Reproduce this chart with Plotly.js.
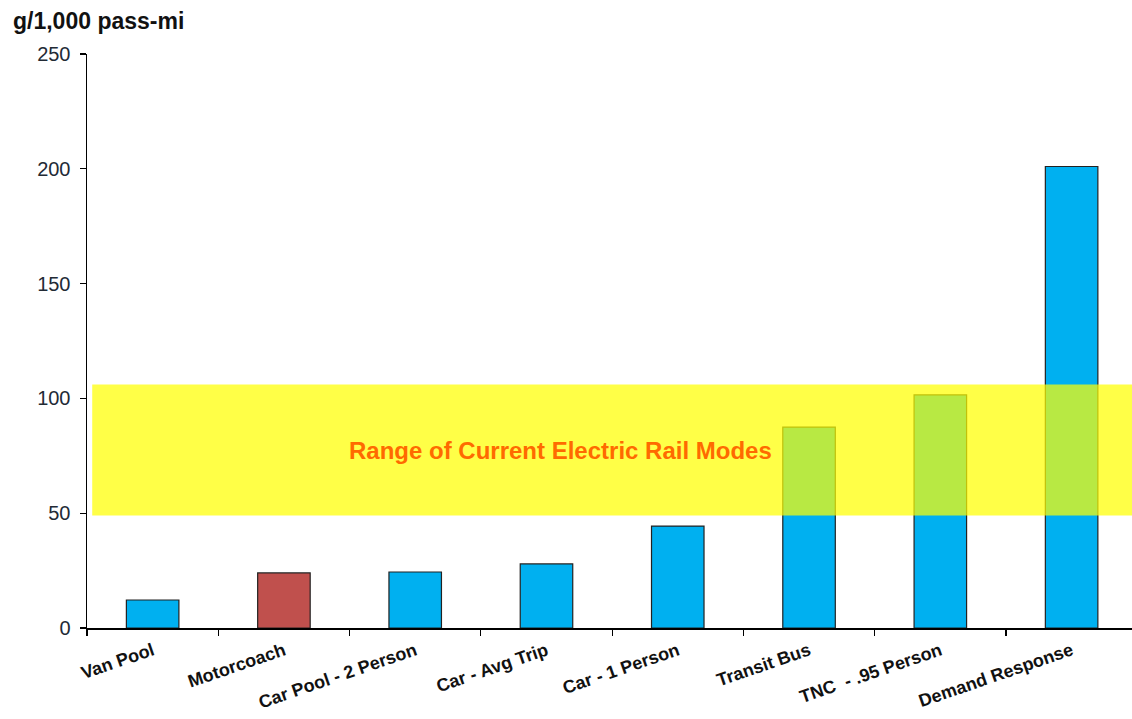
<!DOCTYPE html>
<html>
<head>
<meta charset="utf-8">
<script src="https://cdn.plot.ly/plotly-3.0.1.min.js"></script>
<style>html,body{margin:0;padding:0;background:#fff;}#chart{width:1132px;height:719px;}</style>
</head>
<body>
<div id="chart"></div>
<script>
const categories = ["Van Pool", "Motorcoach", "Car Pool - 2 Person", "Car - Avg Trip", "Car - 1 Person", "Transit Bus", "TNC  - .95 Person", "Demand Response"];
const values = [12.2, 24, 24.4, 27.9, 44.4, 87.5, 101.5, 201];
const barColors = ["#00B0F0", "#C0504D", "#00B0F0", "#00B0F0", "#00B0F0", "#00B0F0", "#00B0F0", "#00B0F0"];
const railRange = [49, 106];
const yTicks = [0, 50, 100, 150, 200, 250];

const trace = {
  type: "bar",
  x: categories,
  y: values,
  width: 0.4,
  marker: {color: barColors, line: {color: "#222222", width: 1.2}},
  hoverinfo: "skip"
};

const layout = {
  width: 1132, height: 719,
  margin: {l: 87, r: 0, t: 54, b: 91},
  paper_bgcolor: "#ffffff", plot_bgcolor: "#ffffff",
  showlegend: false,
  xaxis: {
    type: "category",
    range: [-0.5, 7.46],
    tickangle: -19,
    tickfont: {family: "Liberation Sans, Arial", size: 18, color: "#111111", weight: "bold"},
    ticklabelstandoff: 4,
    showline: true, linecolor: "#000000", linewidth: 1.5,
    ticks: "outside", ticklen: 6, tickcolor: "#000000", tickwidth: 1.2,
    tickson: "boundaries",
    showgrid: false, zeroline: false, fixedrange: true
  },
  yaxis: {
    range: [0, 250],
    tickmode: "array",
    tickvals: yTicks,
    ticktext: yTicks.map(String),
    tickfont: {family: "Liberation Sans, Arial", size: 20, color: "#222a35"},
    ticklabelstandoff: 5,
    showline: true, linecolor: "#000000", linewidth: 1.5,
    ticks: "outside", ticklen: 6, tickcolor: "#000000", tickwidth: 1.2,
    showgrid: false, zeroline: false, fixedrange: true
  },
  shapes: [{
    type: "rect", layer: "above",
    xref: "paper", yref: "y",
    x0: 0.005, x1: 1, y0: railRange[0], y1: railRange[1],
    fillcolor: "#FFFF00", opacity: 0.72,
    line: {width: 0}
  }],
  annotations: [
    {
      text: "g/1,000 pass-mi", xref: "paper", yref: "paper",
      x: -0.0727, y: 1.0836, xanchor: "left", yanchor: "top", showarrow: false,
      font: {family: "Liberation Sans, Arial", size: 23, color: "#111111", weight: "bold"}
    },
    {
      text: "Range of Current Electric Rail Modes", xref: "paper", yref: "y",
      x: (560 - 87) / 1045, y: 77.5, xanchor: "center", yanchor: "middle", showarrow: false,
      font: {family: "Liberation Sans, Arial", size: 24, color: "#FF6A00", weight: "bold"}
    }
  ]
};

Plotly.newPlot("chart", [trace], layout, {displayModeBar: false, staticPlot: true});
</script>
</body>
</html>
